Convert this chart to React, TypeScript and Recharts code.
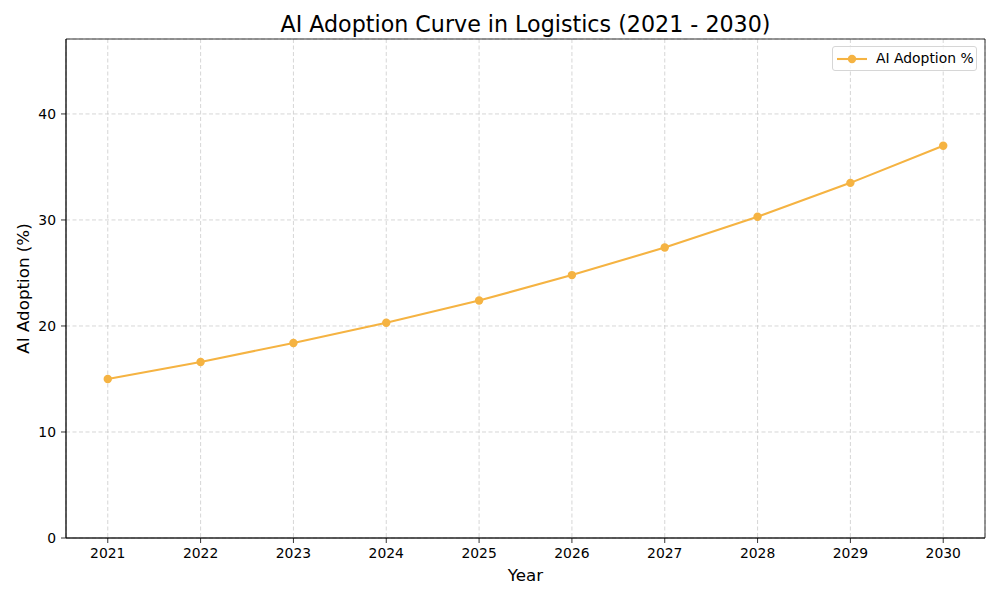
import React from 'react';
import { LineChart, Line, XAxis, YAxis, CartesianGrid, Legend, ReferenceArea } from 'recharts';

const years = [2021, 2022, 2023, 2024, 2025, 2026, 2027, 2028, 2029, 2030];
const adoption = [15.0, 16.6, 18.4, 20.3, 22.4, 24.8, 27.4, 30.3, 33.5, 37.0];
const yTicks = [0, 10, 20, 30, 40];
const xDomain = [2020.55, 2030.45];
const yDomain = [0, 47.07];
const seriesName = 'AI Adoption %';
const titleText = 'AI Adoption Curve in Logistics (2021 - 2030)';
const xLabelText = 'Year';
const yLabelText = 'AI Adoption (%)';

const data = years.map((y, i) => ({ year: y, adoption: adoption[i] }));

const COLOR = '#f5b342';
const FONT = 'DejaVu Sans, sans-serif';

const XLabel = (props: any) => {
  const vb = props.viewBox || {};
  return (
    <text x={vb.x + vb.width / 2} y={vb.y + 43} textAnchor="middle" fontFamily={FONT} fontSize={16.7} fill="#000">
      {xLabelText}
    </text>
  );
};

const YLabel = (props: any) => {
  const vb = props.viewBox || {};
  const cx = vb.x + 23;
  const cy = vb.y + vb.height / 2;
  return (
    <text
      x={cx}
      y={cy}
      transform={`rotate(-90 ${cx} ${cy})`}
      textAnchor="middle"
      dominantBaseline="central"
      fontFamily={FONT}
      fontSize={16.7}
      fill="#000"
    >
      {yLabelText}
    </text>
  );
};

const LegendContent = () => (
  <div
    style={{
      width: 145,
      height: 25,
      border: '1px solid #d6d6d6',
      borderRadius: 3,
      background: 'rgba(255,255,255,0.8)',
      boxSizing: 'border-box',
      position: 'relative',
      fontFamily: FONT,
      fontSize: 13.9,
    }}
  >
    <svg width={36} height={23} style={{ position: 'absolute', left: 2, top: 0 }}>
      <line x1={2} y1={12} x2={32} y2={12} stroke={COLOR} strokeWidth={2.1} />
      <circle cx={17} cy={12} r={4.2} fill={COLOR} />
    </svg>
    <span style={{ position: 'absolute', left: 43, top: 3, whiteSpace: 'nowrap', color: '#000' }}>{seriesName}</span>
  </div>
);

export default function App() {
  return (
    <div style={{ position: 'absolute', left: 0, top: 0, width: 1000, height: 600, background: '#fff' }}>
      <svg width={1000} height={40} style={{ position: 'absolute', left: 0, top: 0 }}>
        <text x={525.5} y={31.5} textAnchor="middle" fontFamily={FONT} fontSize={22.2} fill="#000">
          {titleText}
        </text>
      </svg>
      <LineChart
        width={1000}
        height={600}
        data={data}
        margin={{ top: 39, right: 15, bottom: 0, left: 0 }}
        style={{ position: 'absolute', left: 0, top: 0 }}
      >
        <CartesianGrid stroke="#cccccc" strokeDasharray="4 2.5" strokeWidth={0.8} />
        <XAxis
          dataKey="year"
          type="number"
          domain={xDomain}
          ticks={years}
          allowDataOverflow
          height={62}
          tickSize={5}
          tickMargin={5}
          tick={{ fill: '#000', fontSize: 13.9, fontFamily: FONT }}
          tickLine={{ stroke: '#000', strokeWidth: 0.8 }}
          axisLine={{ stroke: '#000', strokeWidth: 0.8 }}
          label={<XLabel />}
        />
        <YAxis
          type="number"
          domain={yDomain}
          ticks={yTicks}
          allowDataOverflow
          width={66}
          tickSize={5}
          tickMargin={5}
          tick={{ fill: '#000', fontSize: 13.9, fontFamily: FONT }}
          tickLine={{ stroke: '#000', strokeWidth: 0.8 }}
          axisLine={{ stroke: '#000', strokeWidth: 0.8 }}
          label={<YLabel />}
        />
        <ReferenceArea
          x1={xDomain[0]}
          x2={xDomain[1]}
          y1={yDomain[0]}
          y2={yDomain[1]}
          fill="none"
          fillOpacity={0}
          stroke="#000"
          strokeWidth={0.8}
          ifOverflow="visible"
        />
        <Line
          type="linear"
          dataKey="adoption"
          name={seriesName}
          stroke={COLOR}
          strokeWidth={2.1}
          dot={{ r: 4.2, fill: COLOR, stroke: COLOR, strokeWidth: 0 }}
          activeDot={false}
          isAnimationActive={false}
        />
        <Legend
          layout="vertical"
          align="center"
          verticalAlign="middle"
          content={<LegendContent />}
          wrapperStyle={{ position: 'absolute', left: 832, top: 46, width: 145, height: 25, margin: 0 }}
        />
      </LineChart>
    </div>
  );
}
